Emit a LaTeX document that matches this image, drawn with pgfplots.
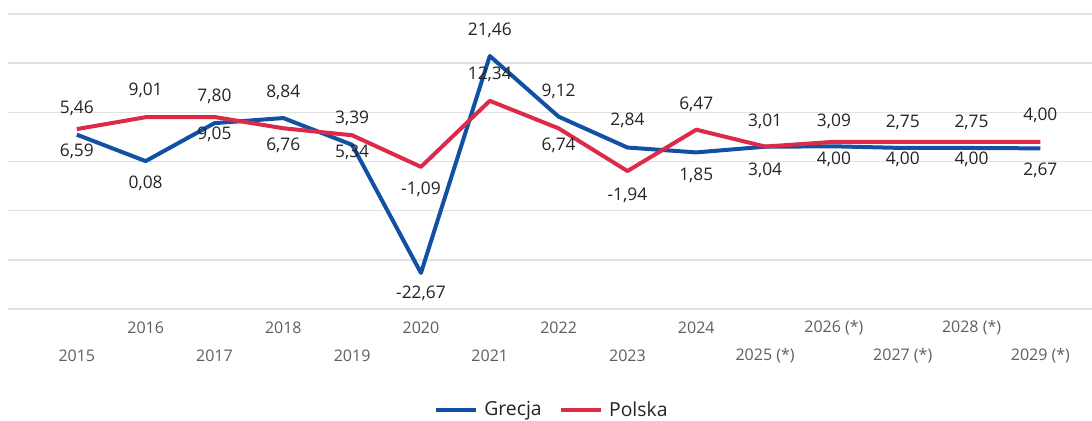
\documentclass[border=0pt]{standalone}
\usepackage{fontspec}
\setmainfont{Open Sans}
\usepackage{pgfplots}
\usepackage{pgfplotstable}
\pgfplotsset{compat=1.18}
\definecolor{gr}{RGB}{17,80,163}
\definecolor{pl}{RGB}{220,42,72}
\definecolor{gridc}{RGB}{226,226,226}
\definecolor{tickc}{RGB}{96,94,92}
\definecolor{labc}{RGB}{37,36,35}

\pgfplotstableread{
x y lab dy
2015 5.46 5,46 20
2016 0.08 0,08 -17
2017 7.80 7,80 20
2018 8.84 8,84 19.5
2019 3.39 3,39 20
2020 -22.67 -22,67 -15
2021 21.46 21,46 19.5
2022 9.12 9,12 19
2023 2.84 2,84 20.5
2024 1.85 1,85 -17.5
2025 3.01 3,01 19
2026 3.09 3,09 19
2027 2.75 2,75 19.5
2028 2.75 2,75 19.5
2029 2.67 2,67 -16.5
}\grecja

\pgfplotstableread{
x y lab dy
2015 6.59 6,59 -17
2016 9.01 9,01 20
2017 9.05 9,05 -13
2018 6.76 6,76 -12.5
2019 5.34 5,34 -12.5
2020 -1.09 -1,09 -17
2021 12.34 12,34 19.5
2022 6.74 6,74 -13
2023 -1.94 -1,94 -18
2024 6.47 6,47 19
2025 3.04 3,04 -18
2026 4.00 4,00 -13
2027 4.00 4,00 -13
2028 4.00 4,00 -13
2029 4.00 4,00 20
}\polska

\begin{document}
\begin{tikzpicture}
\path[use as bounding box] (-6pt,-84pt) rectangle (813pt,231.75pt);
\begin{axis}[
  scale only axis,
  width=813pt, height=221.25pt,
  xmin=2014.0, xmax=2029.75,
  ymin=-30, ymax=30,
  axis line style={draw=none},
  tick style={draw=none},
  ytick={-30,-20,...,30},
  yticklabels={},
  ymajorgrids,
  major grid style={draw=gridc, line width=1.1pt},
  xtick={2016,2018,...,2028},
  xticklabels={2016,2018,2020,2022,2024,2026 (*),2028 (*)},
  extra x ticks={2015,2017,...,2029},
  extra x tick labels={2015,2017,2019,2021,2023,2025 (*),2027 (*),2029 (*)},
  extra x tick style={grid=none, xticklabel style={yshift=-21pt}},
  xticklabel style={anchor=center, yshift=-14.25pt, text=tickc, font=\fontsize{12}{14}\selectfont},
  legend columns=2,
  legend style={at={(0.502,-0.342)}, anchor=center, draw=none, font=\fontsize{14.5}{16}\selectfont, text=labc,
     /tikz/every even column/.append style={column sep=11pt}},
  legend image code/.code={\draw[#1, line width=3.3pt] (0pt,0pt) -- (30pt,0pt); \path (32.5pt,0pt);},
  clip=false,
]
\addplot[gr, line width=3pt, line join=round, mark=none,
  nodes near coords, point meta=explicit symbolic,
  visualization depends on={\thisrow{dy}\as\dy},
  nodes near coords style={anchor=center, yshift=\dy pt, text=labc, font=\fontsize{13}{15}\selectfont}]
  table[x=x, y=y, meta=lab] {\grecja};
\addlegendentry{Grecja}
\addplot[pl, line width=3pt, line join=round, mark=none,
  nodes near coords, point meta=explicit symbolic,
  visualization depends on={\thisrow{dy}\as\dy},
  nodes near coords style={anchor=center, yshift=\dy pt, text=labc, font=\fontsize{13}{15}\selectfont}]
  table[x=x, y=y, meta=lab] {\polska};
\addlegendentry{Polska}
\end{axis}
\end{tikzpicture}
\end{document}
